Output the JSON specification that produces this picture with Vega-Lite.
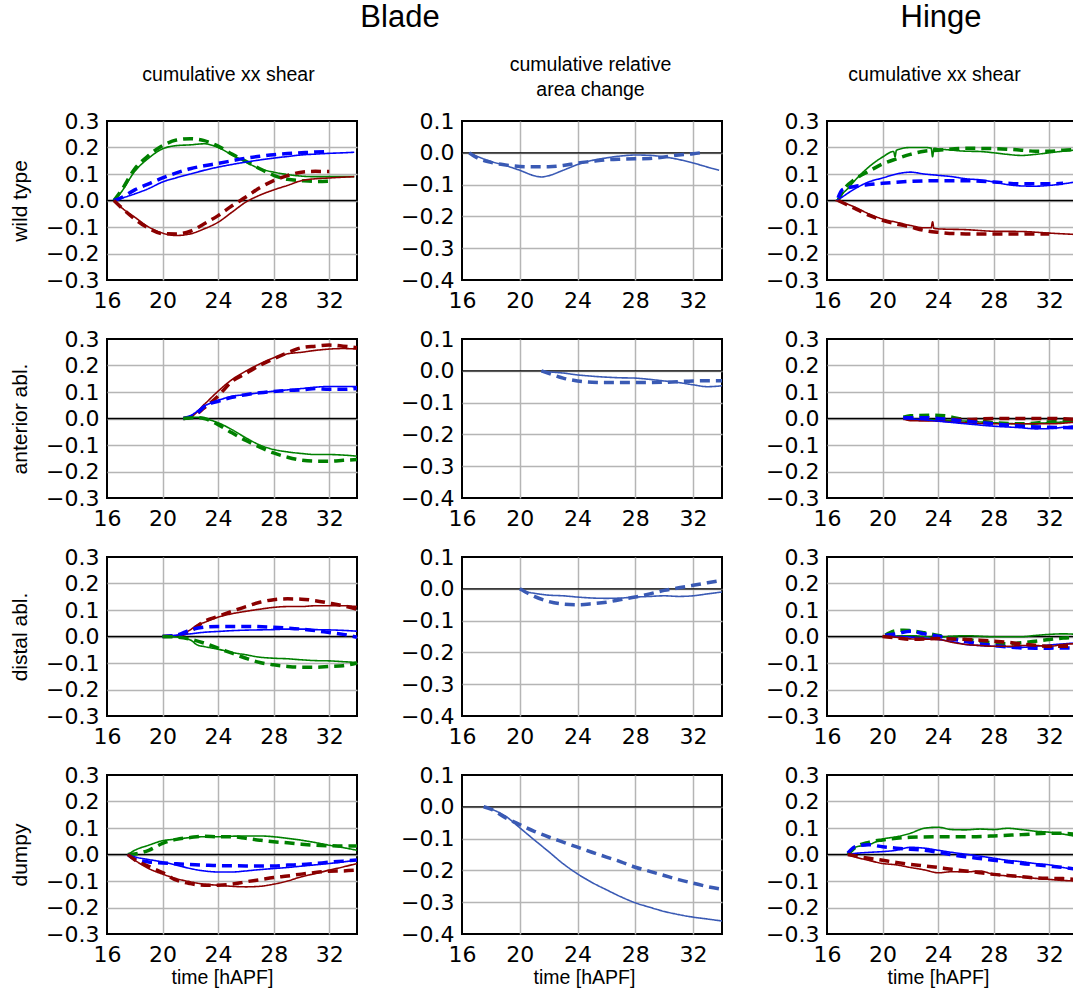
{
"$schema": "https://vega.github.io/schema/vega-lite/v6.json",
"autosize": {"type": "none"},
"padding": {"left": 107, "top": 121, "right": 966, "bottom": 873},
"config": {
  "font": "Liberation Sans",
  "view": {"stroke": "black", "strokeWidth": 2},
  "axis": {"labelFont": "DejaVu Sans", "labelFontSize": 22, "labelColor": "black", "ticks": false, "tickSize": 0, "domain": false, "grid": true, "gridColor": "#b5b5b5", "gridWidth": 1.5, "labelFlush": false, "labelOverlap": false, "titleFont": "Liberation Sans", "titleFontWeight": "normal", "titleColor": "black"},
  "axisX": {"labelPadding": 10},
  "axisY": {"labelPadding": 8},
  "title": {"font": "Liberation Sans", "fontWeight": "normal", "color": "black"}
},
"datasets": {"d": [
{"p":"B","g":"wt","c":"g","k":"s","t":16.5,"v":0},{"p":"B","g":"wt","c":"g","k":"s","t":17,"v":0.03},{"p":"B","g":"wt","c":"g","k":"s","t":18,"v":0.11},{"p":"B","g":"wt","c":"g","k":"s","t":19,"v":0.16},{"p":"B","g":"wt","c":"g","k":"s","t":20,"v":0.195},{"p":"B","g":"wt","c":"g","k":"s","t":21,"v":0.207},{"p":"B","g":"wt","c":"g","k":"s","t":22,"v":0.21},{"p":"B","g":"wt","c":"g","k":"s","t":23,"v":0.214},{"p":"B","g":"wt","c":"g","k":"s","t":24,"v":0.2},{"p":"B","g":"wt","c":"g","k":"s","t":25,"v":0.172},{"p":"B","g":"wt","c":"g","k":"s","t":26,"v":0.145},{"p":"B","g":"wt","c":"g","k":"s","t":27,"v":0.12},{"p":"B","g":"wt","c":"g","k":"s","t":28,"v":0.107},{"p":"B","g":"wt","c":"g","k":"s","t":29,"v":0.098},{"p":"B","g":"wt","c":"g","k":"s","t":30,"v":0.092},{"p":"B","g":"wt","c":"g","k":"s","t":31,"v":0.09},{"p":"B","g":"wt","c":"g","k":"s","t":32,"v":0.09},{"p":"B","g":"wt","c":"g","k":"s","t":33,"v":0.09},{"p":"B","g":"wt","c":"g","k":"s","t":33.8,"v":0.09},
{"p":"B","g":"wt","c":"g","k":"d","t":16.5,"v":0},{"p":"B","g":"wt","c":"g","k":"d","t":17,"v":0.035},{"p":"B","g":"wt","c":"g","k":"d","t":18,"v":0.12},{"p":"B","g":"wt","c":"g","k":"d","t":19,"v":0.17},{"p":"B","g":"wt","c":"g","k":"d","t":20,"v":0.207},{"p":"B","g":"wt","c":"g","k":"d","t":21,"v":0.228},{"p":"B","g":"wt","c":"g","k":"d","t":22,"v":0.233},{"p":"B","g":"wt","c":"g","k":"d","t":23,"v":0.226},{"p":"B","g":"wt","c":"g","k":"d","t":24,"v":0.205},{"p":"B","g":"wt","c":"g","k":"d","t":25,"v":0.175},{"p":"B","g":"wt","c":"g","k":"d","t":26,"v":0.148},{"p":"B","g":"wt","c":"g","k":"d","t":27,"v":0.12},{"p":"B","g":"wt","c":"g","k":"d","t":28,"v":0.095},{"p":"B","g":"wt","c":"g","k":"d","t":29,"v":0.08},{"p":"B","g":"wt","c":"g","k":"d","t":30,"v":0.075},{"p":"B","g":"wt","c":"g","k":"d","t":31,"v":0.072},{"p":"B","g":"wt","c":"g","k":"d","t":32,"v":0.073},
{"p":"B","g":"wt","c":"b","k":"s","t":16.5,"v":0},{"p":"B","g":"wt","c":"b","k":"s","t":18,"v":0.025},{"p":"B","g":"wt","c":"b","k":"s","t":19,"v":0.045},{"p":"B","g":"wt","c":"b","k":"s","t":20,"v":0.07},{"p":"B","g":"wt","c":"b","k":"s","t":21,"v":0.086},{"p":"B","g":"wt","c":"b","k":"s","t":22,"v":0.1},{"p":"B","g":"wt","c":"b","k":"s","t":23,"v":0.114},{"p":"B","g":"wt","c":"b","k":"s","t":24,"v":0.126},{"p":"B","g":"wt","c":"b","k":"s","t":25,"v":0.136},{"p":"B","g":"wt","c":"b","k":"s","t":26,"v":0.145},{"p":"B","g":"wt","c":"b","k":"s","t":27,"v":0.153},{"p":"B","g":"wt","c":"b","k":"s","t":28,"v":0.16},{"p":"B","g":"wt","c":"b","k":"s","t":29,"v":0.166},{"p":"B","g":"wt","c":"b","k":"s","t":30,"v":0.172},{"p":"B","g":"wt","c":"b","k":"s","t":31,"v":0.175},{"p":"B","g":"wt","c":"b","k":"s","t":32,"v":0.178},{"p":"B","g":"wt","c":"b","k":"s","t":33,"v":0.18},{"p":"B","g":"wt","c":"b","k":"s","t":33.8,"v":0.182},
{"p":"B","g":"wt","c":"b","k":"d","t":16.5,"v":0},{"p":"B","g":"wt","c":"b","k":"d","t":17,"v":0.01},{"p":"B","g":"wt","c":"b","k":"d","t":18,"v":0.04},{"p":"B","g":"wt","c":"b","k":"d","t":19,"v":0.063},{"p":"B","g":"wt","c":"b","k":"d","t":20,"v":0.085},{"p":"B","g":"wt","c":"b","k":"d","t":21,"v":0.104},{"p":"B","g":"wt","c":"b","k":"d","t":22,"v":0.12},{"p":"B","g":"wt","c":"b","k":"d","t":23,"v":0.131},{"p":"B","g":"wt","c":"b","k":"d","t":24,"v":0.14},{"p":"B","g":"wt","c":"b","k":"d","t":25,"v":0.15},{"p":"B","g":"wt","c":"b","k":"d","t":26,"v":0.16},{"p":"B","g":"wt","c":"b","k":"d","t":27,"v":0.167},{"p":"B","g":"wt","c":"b","k":"d","t":28,"v":0.173},{"p":"B","g":"wt","c":"b","k":"d","t":29,"v":0.177},{"p":"B","g":"wt","c":"b","k":"d","t":30,"v":0.18},{"p":"B","g":"wt","c":"b","k":"d","t":31,"v":0.183},{"p":"B","g":"wt","c":"b","k":"d","t":32,"v":0.185},
{"p":"B","g":"wt","c":"r","k":"s","t":16.5,"v":0},{"p":"B","g":"wt","c":"r","k":"s","t":17,"v":-0.025},{"p":"B","g":"wt","c":"r","k":"s","t":18,"v":-0.063},{"p":"B","g":"wt","c":"r","k":"s","t":19,"v":-0.1},{"p":"B","g":"wt","c":"r","k":"s","t":20,"v":-0.123},{"p":"B","g":"wt","c":"r","k":"s","t":21,"v":-0.132},{"p":"B","g":"wt","c":"r","k":"s","t":22,"v":-0.126},{"p":"B","g":"wt","c":"r","k":"s","t":23,"v":-0.107},{"p":"B","g":"wt","c":"r","k":"s","t":24,"v":-0.082},{"p":"B","g":"wt","c":"r","k":"s","t":25,"v":-0.044},{"p":"B","g":"wt","c":"r","k":"s","t":26,"v":-0.006},{"p":"B","g":"wt","c":"r","k":"s","t":27,"v":0.02},{"p":"B","g":"wt","c":"r","k":"s","t":28,"v":0.04},{"p":"B","g":"wt","c":"r","k":"s","t":29,"v":0.057},{"p":"B","g":"wt","c":"r","k":"s","t":30,"v":0.075},{"p":"B","g":"wt","c":"r","k":"s","t":31,"v":0.082},{"p":"B","g":"wt","c":"r","k":"s","t":32,"v":0.085},{"p":"B","g":"wt","c":"r","k":"s","t":33,"v":0.088},{"p":"B","g":"wt","c":"r","k":"s","t":33.8,"v":0.09},
{"p":"B","g":"wt","c":"r","k":"d","t":16.5,"v":0},{"p":"B","g":"wt","c":"r","k":"d","t":17,"v":-0.025},{"p":"B","g":"wt","c":"r","k":"d","t":18,"v":-0.07},{"p":"B","g":"wt","c":"r","k":"d","t":19,"v":-0.105},{"p":"B","g":"wt","c":"r","k":"d","t":20,"v":-0.125},{"p":"B","g":"wt","c":"r","k":"d","t":21,"v":-0.126},{"p":"B","g":"wt","c":"r","k":"d","t":22,"v":-0.116},{"p":"B","g":"wt","c":"r","k":"d","t":23,"v":-0.088},{"p":"B","g":"wt","c":"r","k":"d","t":24,"v":-0.057},{"p":"B","g":"wt","c":"r","k":"d","t":25,"v":-0.02},{"p":"B","g":"wt","c":"r","k":"d","t":26,"v":0.013},{"p":"B","g":"wt","c":"r","k":"d","t":27,"v":0.048},{"p":"B","g":"wt","c":"r","k":"d","t":28,"v":0.075},{"p":"B","g":"wt","c":"r","k":"d","t":29,"v":0.094},{"p":"B","g":"wt","c":"r","k":"d","t":30,"v":0.107},{"p":"B","g":"wt","c":"r","k":"d","t":31,"v":0.11},{"p":"B","g":"wt","c":"r","k":"d","t":32,"v":0.109},
{"p":"A","g":"wt","c":"a","k":"s","t":16.5,"v":0},{"p":"A","g":"wt","c":"a","k":"s","t":17,"v":-0.01},{"p":"A","g":"wt","c":"a","k":"s","t":18,"v":-0.027},{"p":"A","g":"wt","c":"a","k":"s","t":19,"v":-0.04},{"p":"A","g":"wt","c":"a","k":"s","t":20,"v":-0.055},{"p":"A","g":"wt","c":"a","k":"s","t":21,"v":-0.072},{"p":"A","g":"wt","c":"a","k":"s","t":21.5,"v":-0.076},{"p":"A","g":"wt","c":"a","k":"s","t":22,"v":-0.072},{"p":"A","g":"wt","c":"a","k":"s","t":23,"v":-0.055},{"p":"A","g":"wt","c":"a","k":"s","t":24,"v":-0.037},{"p":"A","g":"wt","c":"a","k":"s","t":25,"v":-0.024},{"p":"A","g":"wt","c":"a","k":"s","t":26,"v":-0.016},{"p":"A","g":"wt","c":"a","k":"s","t":27,"v":-0.01},{"p":"A","g":"wt","c":"a","k":"s","t":28,"v":-0.007},{"p":"A","g":"wt","c":"a","k":"s","t":29,"v":-0.008},{"p":"A","g":"wt","c":"a","k":"s","t":30,"v":-0.013},{"p":"A","g":"wt","c":"a","k":"s","t":31,"v":-0.021},{"p":"A","g":"wt","c":"a","k":"s","t":32,"v":-0.032},{"p":"A","g":"wt","c":"a","k":"s","t":33,"v":-0.045},{"p":"A","g":"wt","c":"a","k":"s","t":33.8,"v":-0.055},
{"p":"A","g":"wt","c":"a","k":"d","t":16.5,"v":0},{"p":"A","g":"wt","c":"a","k":"d","t":17,"v":-0.015},{"p":"A","g":"wt","c":"a","k":"d","t":18,"v":-0.03},{"p":"A","g":"wt","c":"a","k":"d","t":19,"v":-0.038},{"p":"A","g":"wt","c":"a","k":"d","t":20,"v":-0.043},{"p":"A","g":"wt","c":"a","k":"d","t":21,"v":-0.044},{"p":"A","g":"wt","c":"a","k":"d","t":22,"v":-0.044},{"p":"A","g":"wt","c":"a","k":"d","t":23,"v":-0.04},{"p":"A","g":"wt","c":"a","k":"d","t":24,"v":-0.032},{"p":"A","g":"wt","c":"a","k":"d","t":25,"v":-0.027},{"p":"A","g":"wt","c":"a","k":"d","t":26,"v":-0.022},{"p":"A","g":"wt","c":"a","k":"d","t":27,"v":-0.02},{"p":"A","g":"wt","c":"a","k":"d","t":28,"v":-0.019},{"p":"A","g":"wt","c":"a","k":"d","t":29,"v":-0.018},{"p":"A","g":"wt","c":"a","k":"d","t":30,"v":-0.013},{"p":"A","g":"wt","c":"a","k":"d","t":31,"v":-0.007},{"p":"A","g":"wt","c":"a","k":"d","t":32,"v":-0.003},{"p":"A","g":"wt","c":"a","k":"d","t":32.5,"v":0},
{"p":"H","g":"wt","c":"g","k":"s","t":16.7,"v":0},{"p":"H","g":"wt","c":"g","k":"s","t":17,"v":0.02},{"p":"H","g":"wt","c":"g","k":"s","t":17.5,"v":0.045},{"p":"H","g":"wt","c":"g","k":"s","t":18,"v":0.075},{"p":"H","g":"wt","c":"g","k":"s","t":19,"v":0.126},{"p":"H","g":"wt","c":"g","k":"s","t":20,"v":0.164},{"p":"H","g":"wt","c":"g","k":"s","t":20.8,"v":0.185},{"p":"H","g":"wt","c":"g","k":"s","t":20.9,"v":0.165},{"p":"H","g":"wt","c":"g","k":"s","t":21,"v":0.19},{"p":"H","g":"wt","c":"g","k":"s","t":22,"v":0.2},{"p":"H","g":"wt","c":"g","k":"s","t":23,"v":0.2},{"p":"H","g":"wt","c":"g","k":"s","t":23.5,"v":0.198},{"p":"H","g":"wt","c":"g","k":"s","t":23.6,"v":0.165},{"p":"H","g":"wt","c":"g","k":"s","t":23.7,"v":0.197},{"p":"H","g":"wt","c":"g","k":"s","t":24,"v":0.195},{"p":"H","g":"wt","c":"g","k":"s","t":25,"v":0.19},{"p":"H","g":"wt","c":"g","k":"s","t":26,"v":0.186},{"p":"H","g":"wt","c":"g","k":"s","t":27,"v":0.185},{"p":"H","g":"wt","c":"g","k":"s","t":28,"v":0.18},{"p":"H","g":"wt","c":"g","k":"s","t":29,"v":0.174},{"p":"H","g":"wt","c":"g","k":"s","t":30,"v":0.17},{"p":"H","g":"wt","c":"g","k":"s","t":31,"v":0.174},{"p":"H","g":"wt","c":"g","k":"s","t":32,"v":0.18},{"p":"H","g":"wt","c":"g","k":"s","t":33,"v":0.186},{"p":"H","g":"wt","c":"g","k":"s","t":33.8,"v":0.19},
{"p":"H","g":"wt","c":"g","k":"d","t":16.8,"v":0},{"p":"H","g":"wt","c":"g","k":"d","t":17.2,"v":0.04},{"p":"H","g":"wt","c":"g","k":"d","t":18,"v":0.08},{"p":"H","g":"wt","c":"g","k":"d","t":19,"v":0.11},{"p":"H","g":"wt","c":"g","k":"d","t":20,"v":0.138},{"p":"H","g":"wt","c":"g","k":"d","t":21,"v":0.157},{"p":"H","g":"wt","c":"g","k":"d","t":22,"v":0.174},{"p":"H","g":"wt","c":"g","k":"d","t":23,"v":0.186},{"p":"H","g":"wt","c":"g","k":"d","t":24,"v":0.19},{"p":"H","g":"wt","c":"g","k":"d","t":26,"v":0.197},{"p":"H","g":"wt","c":"g","k":"d","t":28,"v":0.196},{"p":"H","g":"wt","c":"g","k":"d","t":30,"v":0.19},{"p":"H","g":"wt","c":"g","k":"d","t":31,"v":0.186},{"p":"H","g":"wt","c":"g","k":"d","t":32,"v":0.186},{"p":"H","g":"wt","c":"g","k":"d","t":33,"v":0.19},{"p":"H","g":"wt","c":"g","k":"d","t":33.8,"v":0.192},
{"p":"H","g":"wt","c":"b","k":"s","t":16.7,"v":0},{"p":"H","g":"wt","c":"b","k":"s","t":17,"v":0.01},{"p":"H","g":"wt","c":"b","k":"s","t":18,"v":0.044},{"p":"H","g":"wt","c":"b","k":"s","t":19,"v":0.07},{"p":"H","g":"wt","c":"b","k":"s","t":20,"v":0.085},{"p":"H","g":"wt","c":"b","k":"s","t":21,"v":0.1},{"p":"H","g":"wt","c":"b","k":"s","t":22,"v":0.107},{"p":"H","g":"wt","c":"b","k":"s","t":23,"v":0.1},{"p":"H","g":"wt","c":"b","k":"s","t":24,"v":0.095},{"p":"H","g":"wt","c":"b","k":"s","t":25,"v":0.09},{"p":"H","g":"wt","c":"b","k":"s","t":26,"v":0.082},{"p":"H","g":"wt","c":"b","k":"s","t":27,"v":0.078},{"p":"H","g":"wt","c":"b","k":"s","t":28,"v":0.07},{"p":"H","g":"wt","c":"b","k":"s","t":29,"v":0.06},{"p":"H","g":"wt","c":"b","k":"s","t":30,"v":0.055},{"p":"H","g":"wt","c":"b","k":"s","t":31,"v":0.054},{"p":"H","g":"wt","c":"b","k":"s","t":32,"v":0.057},{"p":"H","g":"wt","c":"b","k":"s","t":33,"v":0.063},{"p":"H","g":"wt","c":"b","k":"s","t":33.8,"v":0.069},
{"p":"H","g":"wt","c":"b","k":"d","t":16.8,"v":0.01},{"p":"H","g":"wt","c":"b","k":"d","t":17.1,"v":0.04},{"p":"H","g":"wt","c":"b","k":"d","t":18,"v":0.053},{"p":"H","g":"wt","c":"b","k":"d","t":19,"v":0.06},{"p":"H","g":"wt","c":"b","k":"d","t":20,"v":0.065},{"p":"H","g":"wt","c":"b","k":"d","t":22,"v":0.072},{"p":"H","g":"wt","c":"b","k":"d","t":24,"v":0.075},{"p":"H","g":"wt","c":"b","k":"d","t":26,"v":0.075},{"p":"H","g":"wt","c":"b","k":"d","t":28,"v":0.07},{"p":"H","g":"wt","c":"b","k":"d","t":30,"v":0.063},{"p":"H","g":"wt","c":"b","k":"d","t":32,"v":0.063},{"p":"H","g":"wt","c":"b","k":"d","t":33,"v":0.065},
{"p":"H","g":"wt","c":"r","k":"s","t":16.6,"v":0},{"p":"H","g":"wt","c":"r","k":"s","t":17,"v":-0.005},{"p":"H","g":"wt","c":"r","k":"s","t":18,"v":-0.025},{"p":"H","g":"wt","c":"r","k":"s","t":19,"v":-0.05},{"p":"H","g":"wt","c":"r","k":"s","t":20,"v":-0.07},{"p":"H","g":"wt","c":"r","k":"s","t":21,"v":-0.082},{"p":"H","g":"wt","c":"r","k":"s","t":22,"v":-0.094},{"p":"H","g":"wt","c":"r","k":"s","t":23,"v":-0.103},{"p":"H","g":"wt","c":"r","k":"s","t":23.5,"v":-0.103},{"p":"H","g":"wt","c":"r","k":"s","t":23.6,"v":-0.08},{"p":"H","g":"wt","c":"r","k":"s","t":23.7,"v":-0.105},{"p":"H","g":"wt","c":"r","k":"s","t":24,"v":-0.107},{"p":"H","g":"wt","c":"r","k":"s","t":26,"v":-0.11},{"p":"H","g":"wt","c":"r","k":"s","t":28,"v":-0.116},{"p":"H","g":"wt","c":"r","k":"s","t":30,"v":-0.117},{"p":"H","g":"wt","c":"r","k":"s","t":32,"v":-0.123},{"p":"H","g":"wt","c":"r","k":"s","t":33.8,"v":-0.128},
{"p":"H","g":"wt","c":"r","k":"d","t":16.8,"v":0},{"p":"H","g":"wt","c":"r","k":"d","t":18,"v":-0.03},{"p":"H","g":"wt","c":"r","k":"d","t":19,"v":-0.055},{"p":"H","g":"wt","c":"r","k":"d","t":20,"v":-0.075},{"p":"H","g":"wt","c":"r","k":"d","t":22,"v":-0.1},{"p":"H","g":"wt","c":"r","k":"d","t":23,"v":-0.113},{"p":"H","g":"wt","c":"r","k":"d","t":24,"v":-0.12},{"p":"H","g":"wt","c":"r","k":"d","t":26,"v":-0.126},{"p":"H","g":"wt","c":"r","k":"d","t":28,"v":-0.126},{"p":"H","g":"wt","c":"r","k":"d","t":30,"v":-0.126},{"p":"H","g":"wt","c":"r","k":"d","t":32,"v":-0.126},
{"p":"B","g":"ant","c":"r","k":"s","t":21.5,"v":0},{"p":"B","g":"ant","c":"r","k":"s","t":22,"v":0.005},{"p":"B","g":"ant","c":"r","k":"s","t":23,"v":0.053},{"p":"B","g":"ant","c":"r","k":"s","t":24,"v":0.103},{"p":"B","g":"ant","c":"r","k":"s","t":25,"v":0.147},{"p":"B","g":"ant","c":"r","k":"s","t":26,"v":0.179},{"p":"B","g":"ant","c":"r","k":"s","t":27,"v":0.206},{"p":"B","g":"ant","c":"r","k":"s","t":28,"v":0.229},{"p":"B","g":"ant","c":"r","k":"s","t":29,"v":0.244},{"p":"B","g":"ant","c":"r","k":"s","t":30,"v":0.25},{"p":"B","g":"ant","c":"r","k":"s","t":31,"v":0.257},{"p":"B","g":"ant","c":"r","k":"s","t":32,"v":0.262},{"p":"B","g":"ant","c":"r","k":"s","t":33,"v":0.264},{"p":"B","g":"ant","c":"r","k":"s","t":34,"v":0.262},
{"p":"B","g":"ant","c":"r","k":"d","t":21.5,"v":0},{"p":"B","g":"ant","c":"r","k":"d","t":22,"v":0.004},{"p":"B","g":"ant","c":"r","k":"d","t":23,"v":0.04},{"p":"B","g":"ant","c":"r","k":"d","t":24,"v":0.085},{"p":"B","g":"ant","c":"r","k":"d","t":25,"v":0.14},{"p":"B","g":"ant","c":"r","k":"d","t":26,"v":0.17},{"p":"B","g":"ant","c":"r","k":"d","t":27,"v":0.2},{"p":"B","g":"ant","c":"r","k":"d","t":28,"v":0.225},{"p":"B","g":"ant","c":"r","k":"d","t":29,"v":0.248},{"p":"B","g":"ant","c":"r","k":"d","t":30,"v":0.267},{"p":"B","g":"ant","c":"r","k":"d","t":31,"v":0.273},{"p":"B","g":"ant","c":"r","k":"d","t":32,"v":0.277},{"p":"B","g":"ant","c":"r","k":"d","t":33,"v":0.273},{"p":"B","g":"ant","c":"r","k":"d","t":34,"v":0.267},
{"p":"B","g":"ant","c":"b","k":"s","t":21.5,"v":0},{"p":"B","g":"ant","c":"b","k":"s","t":22,"v":0.01},{"p":"B","g":"ant","c":"b","k":"s","t":23,"v":0.047},{"p":"B","g":"ant","c":"b","k":"s","t":24,"v":0.068},{"p":"B","g":"ant","c":"b","k":"s","t":25,"v":0.084},{"p":"B","g":"ant","c":"b","k":"s","t":26,"v":0.09},{"p":"B","g":"ant","c":"b","k":"s","t":27,"v":0.097},{"p":"B","g":"ant","c":"b","k":"s","t":28,"v":0.103},{"p":"B","g":"ant","c":"b","k":"s","t":29,"v":0.108},{"p":"B","g":"ant","c":"b","k":"s","t":30,"v":0.113},{"p":"B","g":"ant","c":"b","k":"s","t":31,"v":0.118},{"p":"B","g":"ant","c":"b","k":"s","t":32,"v":0.121},{"p":"B","g":"ant","c":"b","k":"s","t":33,"v":0.121},{"p":"B","g":"ant","c":"b","k":"s","t":34,"v":0.12},
{"p":"B","g":"ant","c":"b","k":"d","t":21.5,"v":0},{"p":"B","g":"ant","c":"b","k":"d","t":22.5,"v":0.02},{"p":"B","g":"ant","c":"b","k":"d","t":23,"v":0.045},{"p":"B","g":"ant","c":"b","k":"d","t":24,"v":0.065},{"p":"B","g":"ant","c":"b","k":"d","t":25,"v":0.08},{"p":"B","g":"ant","c":"b","k":"d","t":26,"v":0.09},{"p":"B","g":"ant","c":"b","k":"d","t":27,"v":0.097},{"p":"B","g":"ant","c":"b","k":"d","t":28,"v":0.102},{"p":"B","g":"ant","c":"b","k":"d","t":29,"v":0.106},{"p":"B","g":"ant","c":"b","k":"d","t":30,"v":0.108},{"p":"B","g":"ant","c":"b","k":"d","t":31,"v":0.113},{"p":"B","g":"ant","c":"b","k":"d","t":32,"v":0.11},{"p":"B","g":"ant","c":"b","k":"d","t":33,"v":0.11},{"p":"B","g":"ant","c":"b","k":"d","t":34,"v":0.113},
{"p":"B","g":"ant","c":"g","k":"s","t":21.5,"v":0},{"p":"B","g":"ant","c":"g","k":"s","t":22.5,"v":0.005},{"p":"B","g":"ant","c":"g","k":"s","t":23,"v":0},{"p":"B","g":"ant","c":"g","k":"s","t":24,"v":-0.016},{"p":"B","g":"ant","c":"g","k":"s","t":25,"v":-0.042},{"p":"B","g":"ant","c":"g","k":"s","t":26,"v":-0.073},{"p":"B","g":"ant","c":"g","k":"s","t":27,"v":-0.1},{"p":"B","g":"ant","c":"g","k":"s","t":28,"v":-0.117},{"p":"B","g":"ant","c":"g","k":"s","t":29,"v":-0.126},{"p":"B","g":"ant","c":"g","k":"s","t":30,"v":-0.132},{"p":"B","g":"ant","c":"g","k":"s","t":31,"v":-0.136},{"p":"B","g":"ant","c":"g","k":"s","t":32,"v":-0.136},{"p":"B","g":"ant","c":"g","k":"s","t":33,"v":-0.138},{"p":"B","g":"ant","c":"g","k":"s","t":34,"v":-0.142},
{"p":"B","g":"ant","c":"g","k":"d","t":21.5,"v":0},{"p":"B","g":"ant","c":"g","k":"d","t":22.5,"v":0.003},{"p":"B","g":"ant","c":"g","k":"d","t":23,"v":0},{"p":"B","g":"ant","c":"g","k":"d","t":24,"v":-0.023},{"p":"B","g":"ant","c":"g","k":"d","t":25,"v":-0.054},{"p":"B","g":"ant","c":"g","k":"d","t":26,"v":-0.083},{"p":"B","g":"ant","c":"g","k":"d","t":27,"v":-0.108},{"p":"B","g":"ant","c":"g","k":"d","t":28,"v":-0.13},{"p":"B","g":"ant","c":"g","k":"d","t":29,"v":-0.146},{"p":"B","g":"ant","c":"g","k":"d","t":30,"v":-0.157},{"p":"B","g":"ant","c":"g","k":"d","t":31,"v":-0.161},{"p":"B","g":"ant","c":"g","k":"d","t":32,"v":-0.161},{"p":"B","g":"ant","c":"g","k":"d","t":33,"v":-0.158},{"p":"B","g":"ant","c":"g","k":"d","t":34,"v":-0.155},
{"p":"A","g":"ant","c":"a","k":"s","t":21.5,"v":0},{"p":"A","g":"ant","c":"a","k":"s","t":22,"v":-0.003},{"p":"A","g":"ant","c":"a","k":"s","t":23,"v":-0.007},{"p":"A","g":"ant","c":"a","k":"s","t":24,"v":-0.013},{"p":"A","g":"ant","c":"a","k":"s","t":25,"v":-0.017},{"p":"A","g":"ant","c":"a","k":"s","t":26,"v":-0.02},{"p":"A","g":"ant","c":"a","k":"s","t":27,"v":-0.022},{"p":"A","g":"ant","c":"a","k":"s","t":28,"v":-0.023},{"p":"A","g":"ant","c":"a","k":"s","t":29,"v":-0.027},{"p":"A","g":"ant","c":"a","k":"s","t":30,"v":-0.032},{"p":"A","g":"ant","c":"a","k":"s","t":31,"v":-0.037},{"p":"A","g":"ant","c":"a","k":"s","t":32,"v":-0.044},{"p":"A","g":"ant","c":"a","k":"s","t":33,"v":-0.05},{"p":"A","g":"ant","c":"a","k":"s","t":34,"v":-0.047},
{"p":"A","g":"ant","c":"a","k":"d","t":21.5,"v":0},{"p":"A","g":"ant","c":"a","k":"d","t":22,"v":-0.008},{"p":"A","g":"ant","c":"a","k":"d","t":23,"v":-0.023},{"p":"A","g":"ant","c":"a","k":"d","t":24,"v":-0.032},{"p":"A","g":"ant","c":"a","k":"d","t":25,"v":-0.036},{"p":"A","g":"ant","c":"a","k":"d","t":26,"v":-0.037},{"p":"A","g":"ant","c":"a","k":"d","t":28,"v":-0.037},{"p":"A","g":"ant","c":"a","k":"d","t":30,"v":-0.036},{"p":"A","g":"ant","c":"a","k":"d","t":32,"v":-0.032},{"p":"A","g":"ant","c":"a","k":"d","t":34,"v":-0.031},
{"p":"H","g":"ant","c":"g","k":"s","t":21.5,"v":0},{"p":"H","g":"ant","c":"g","k":"s","t":22,"v":-0.003},{"p":"H","g":"ant","c":"g","k":"s","t":24,"v":-0.005},{"p":"H","g":"ant","c":"g","k":"s","t":26,"v":-0.01},{"p":"H","g":"ant","c":"g","k":"s","t":28,"v":-0.016},{"p":"H","g":"ant","c":"g","k":"s","t":30,"v":-0.02},{"p":"H","g":"ant","c":"g","k":"s","t":32,"v":-0.016},{"p":"H","g":"ant","c":"g","k":"s","t":34,"v":-0.01},
{"p":"H","g":"ant","c":"g","k":"d","t":21.5,"v":0.005},{"p":"H","g":"ant","c":"g","k":"d","t":22,"v":0.01},{"p":"H","g":"ant","c":"g","k":"d","t":23.5,"v":0.012},{"p":"H","g":"ant","c":"g","k":"d","t":24.5,"v":0.01},{"p":"H","g":"ant","c":"g","k":"d","t":25,"v":0.005},{"p":"H","g":"ant","c":"g","k":"d","t":26,"v":-0.005},{"p":"H","g":"ant","c":"g","k":"d","t":27,"v":-0.01},{"p":"H","g":"ant","c":"g","k":"d","t":28,"v":-0.016},{"p":"H","g":"ant","c":"g","k":"d","t":30,"v":-0.02},{"p":"H","g":"ant","c":"g","k":"d","t":32,"v":-0.013},{"p":"H","g":"ant","c":"g","k":"d","t":34,"v":-0.008},
{"p":"H","g":"ant","c":"r","k":"s","t":21.5,"v":0},{"p":"H","g":"ant","c":"r","k":"s","t":22,"v":-0.008},{"p":"H","g":"ant","c":"r","k":"s","t":24,"v":-0.01},{"p":"H","g":"ant","c":"r","k":"s","t":26,"v":-0.016},{"p":"H","g":"ant","c":"r","k":"s","t":28,"v":-0.02},{"p":"H","g":"ant","c":"r","k":"s","t":30,"v":-0.02},{"p":"H","g":"ant","c":"r","k":"s","t":32,"v":-0.02},{"p":"H","g":"ant","c":"r","k":"s","t":34,"v":-0.013},
{"p":"H","g":"ant","c":"r","k":"d","t":21.5,"v":0},{"p":"H","g":"ant","c":"r","k":"d","t":23,"v":-0.003},{"p":"H","g":"ant","c":"r","k":"d","t":24,"v":-0.004},{"p":"H","g":"ant","c":"r","k":"d","t":26,"v":-0.004},{"p":"H","g":"ant","c":"r","k":"d","t":28,"v":0},{"p":"H","g":"ant","c":"r","k":"d","t":30,"v":0},{"p":"H","g":"ant","c":"r","k":"d","t":32,"v":0},{"p":"H","g":"ant","c":"r","k":"d","t":34,"v":-0.004},
{"p":"H","g":"ant","c":"b","k":"s","t":21.5,"v":0},{"p":"H","g":"ant","c":"b","k":"s","t":23,"v":-0.005},{"p":"H","g":"ant","c":"b","k":"s","t":24,"v":-0.01},{"p":"H","g":"ant","c":"b","k":"s","t":26,"v":-0.02},{"p":"H","g":"ant","c":"b","k":"s","t":28,"v":-0.029},{"p":"H","g":"ant","c":"b","k":"s","t":30,"v":-0.035},{"p":"H","g":"ant","c":"b","k":"s","t":31,"v":-0.039},{"p":"H","g":"ant","c":"b","k":"s","t":32,"v":-0.038},{"p":"H","g":"ant","c":"b","k":"s","t":33,"v":-0.033},{"p":"H","g":"ant","c":"b","k":"s","t":34,"v":-0.026},
{"p":"H","g":"ant","c":"b","k":"d","t":21.5,"v":0.003},{"p":"H","g":"ant","c":"b","k":"d","t":23,"v":0.003},{"p":"H","g":"ant","c":"b","k":"d","t":24,"v":0},{"p":"H","g":"ant","c":"b","k":"d","t":26,"v":-0.01},{"p":"H","g":"ant","c":"b","k":"d","t":28,"v":-0.02},{"p":"H","g":"ant","c":"b","k":"d","t":30,"v":-0.029},{"p":"H","g":"ant","c":"b","k":"d","t":32,"v":-0.033},{"p":"H","g":"ant","c":"b","k":"d","t":34,"v":-0.035},
{"p":"B","g":"dis","c":"r","k":"s","t":20,"v":0},{"p":"B","g":"dis","c":"r","k":"s","t":21,"v":0.004},{"p":"B","g":"dis","c":"r","k":"s","t":22,"v":0.025},{"p":"B","g":"dis","c":"r","k":"s","t":22.5,"v":0.044},{"p":"B","g":"dis","c":"r","k":"s","t":23,"v":0.053},{"p":"B","g":"dis","c":"r","k":"s","t":24,"v":0.073},{"p":"B","g":"dis","c":"r","k":"s","t":25,"v":0.086},{"p":"B","g":"dis","c":"r","k":"s","t":26,"v":0.095},{"p":"B","g":"dis","c":"r","k":"s","t":27,"v":0.103},{"p":"B","g":"dis","c":"r","k":"s","t":28,"v":0.11},{"p":"B","g":"dis","c":"r","k":"s","t":29,"v":0.113},{"p":"B","g":"dis","c":"r","k":"s","t":30,"v":0.113},{"p":"B","g":"dis","c":"r","k":"s","t":31,"v":0.116},{"p":"B","g":"dis","c":"r","k":"s","t":32,"v":0.116},{"p":"B","g":"dis","c":"r","k":"s","t":33,"v":0.116},{"p":"B","g":"dis","c":"r","k":"s","t":34,"v":0.113},
{"p":"B","g":"dis","c":"r","k":"d","t":20,"v":0},{"p":"B","g":"dis","c":"r","k":"d","t":21,"v":0.003},{"p":"B","g":"dis","c":"r","k":"d","t":22,"v":0.02},{"p":"B","g":"dis","c":"r","k":"d","t":23,"v":0.057},{"p":"B","g":"dis","c":"r","k":"d","t":24,"v":0.076},{"p":"B","g":"dis","c":"r","k":"d","t":25,"v":0.095},{"p":"B","g":"dis","c":"r","k":"d","t":26,"v":0.113},{"p":"B","g":"dis","c":"r","k":"d","t":27,"v":0.129},{"p":"B","g":"dis","c":"r","k":"d","t":28,"v":0.139},{"p":"B","g":"dis","c":"r","k":"d","t":29,"v":0.142},{"p":"B","g":"dis","c":"r","k":"d","t":30,"v":0.141},{"p":"B","g":"dis","c":"r","k":"d","t":31,"v":0.135},{"p":"B","g":"dis","c":"r","k":"d","t":32,"v":0.126},{"p":"B","g":"dis","c":"r","k":"d","t":33,"v":0.116},{"p":"B","g":"dis","c":"r","k":"d","t":34,"v":0.103},
{"p":"B","g":"dis","c":"b","k":"s","t":20,"v":0},{"p":"B","g":"dis","c":"b","k":"s","t":21,"v":0.005},{"p":"B","g":"dis","c":"b","k":"s","t":22,"v":0.01},{"p":"B","g":"dis","c":"b","k":"s","t":23,"v":0.016},{"p":"B","g":"dis","c":"b","k":"s","t":24,"v":0.019},{"p":"B","g":"dis","c":"b","k":"s","t":25,"v":0.022},{"p":"B","g":"dis","c":"b","k":"s","t":26,"v":0.024},{"p":"B","g":"dis","c":"b","k":"s","t":27,"v":0.025},{"p":"B","g":"dis","c":"b","k":"s","t":28,"v":0.026},{"p":"B","g":"dis","c":"b","k":"s","t":29,"v":0.028},{"p":"B","g":"dis","c":"b","k":"s","t":30,"v":0.028},{"p":"B","g":"dis","c":"b","k":"s","t":31,"v":0.026},{"p":"B","g":"dis","c":"b","k":"s","t":32,"v":0.025},{"p":"B","g":"dis","c":"b","k":"s","t":33,"v":0.023},{"p":"B","g":"dis","c":"b","k":"s","t":34,"v":0.02},
{"p":"B","g":"dis","c":"b","k":"d","t":20,"v":0},{"p":"B","g":"dis","c":"b","k":"d","t":21,"v":0.005},{"p":"B","g":"dis","c":"b","k":"d","t":22,"v":0.025},{"p":"B","g":"dis","c":"b","k":"d","t":23,"v":0.035},{"p":"B","g":"dis","c":"b","k":"d","t":24,"v":0.038},{"p":"B","g":"dis","c":"b","k":"d","t":26,"v":0.038},{"p":"B","g":"dis","c":"b","k":"d","t":28,"v":0.035},{"p":"B","g":"dis","c":"b","k":"d","t":29,"v":0.032},{"p":"B","g":"dis","c":"b","k":"d","t":30,"v":0.028},{"p":"B","g":"dis","c":"b","k":"d","t":31,"v":0.022},{"p":"B","g":"dis","c":"b","k":"d","t":32,"v":0.015},{"p":"B","g":"dis","c":"b","k":"d","t":33,"v":0.008},{"p":"B","g":"dis","c":"b","k":"d","t":34,"v":-0.003},
{"p":"B","g":"dis","c":"g","k":"s","t":20,"v":0},{"p":"B","g":"dis","c":"g","k":"s","t":21,"v":-0.002},{"p":"B","g":"dis","c":"g","k":"s","t":22,"v":-0.013},{"p":"B","g":"dis","c":"g","k":"s","t":22.5,"v":-0.032},{"p":"B","g":"dis","c":"g","k":"s","t":23,"v":-0.038},{"p":"B","g":"dis","c":"g","k":"s","t":24,"v":-0.048},{"p":"B","g":"dis","c":"g","k":"s","t":25,"v":-0.06},{"p":"B","g":"dis","c":"g","k":"s","t":26,"v":-0.069},{"p":"B","g":"dis","c":"g","k":"s","t":27,"v":-0.078},{"p":"B","g":"dis","c":"g","k":"s","t":28,"v":-0.082},{"p":"B","g":"dis","c":"g","k":"s","t":29,"v":-0.084},{"p":"B","g":"dis","c":"g","k":"s","t":30,"v":-0.088},{"p":"B","g":"dis","c":"g","k":"s","t":31,"v":-0.091},{"p":"B","g":"dis","c":"g","k":"s","t":32,"v":-0.092},{"p":"B","g":"dis","c":"g","k":"s","t":33,"v":-0.095},{"p":"B","g":"dis","c":"g","k":"s","t":34,"v":-0.098},
{"p":"B","g":"dis","c":"g","k":"d","t":20,"v":0},{"p":"B","g":"dis","c":"g","k":"d","t":21,"v":-0.002},{"p":"B","g":"dis","c":"g","k":"d","t":22,"v":-0.01},{"p":"B","g":"dis","c":"g","k":"d","t":23,"v":-0.025},{"p":"B","g":"dis","c":"g","k":"d","t":24,"v":-0.044},{"p":"B","g":"dis","c":"g","k":"d","t":25,"v":-0.063},{"p":"B","g":"dis","c":"g","k":"d","t":26,"v":-0.082},{"p":"B","g":"dis","c":"g","k":"d","t":27,"v":-0.098},{"p":"B","g":"dis","c":"g","k":"d","t":28,"v":-0.107},{"p":"B","g":"dis","c":"g","k":"d","t":29,"v":-0.113},{"p":"B","g":"dis","c":"g","k":"d","t":30,"v":-0.116},{"p":"B","g":"dis","c":"g","k":"d","t":31,"v":-0.116},{"p":"B","g":"dis","c":"g","k":"d","t":32,"v":-0.113},{"p":"B","g":"dis","c":"g","k":"d","t":33,"v":-0.11},{"p":"B","g":"dis","c":"g","k":"d","t":34,"v":-0.1},
{"p":"A","g":"dis","c":"a","k":"s","t":20,"v":0},{"p":"A","g":"dis","c":"a","k":"s","t":20.5,"v":-0.01},{"p":"A","g":"dis","c":"a","k":"s","t":21,"v":-0.014},{"p":"A","g":"dis","c":"a","k":"s","t":22,"v":-0.02},{"p":"A","g":"dis","c":"a","k":"s","t":23,"v":-0.022},{"p":"A","g":"dis","c":"a","k":"s","t":24,"v":-0.026},{"p":"A","g":"dis","c":"a","k":"s","t":25,"v":-0.029},{"p":"A","g":"dis","c":"a","k":"s","t":26,"v":-0.03},{"p":"A","g":"dis","c":"a","k":"s","t":27,"v":-0.029},{"p":"A","g":"dis","c":"a","k":"s","t":28,"v":-0.026},{"p":"A","g":"dis","c":"a","k":"s","t":29,"v":-0.024},{"p":"A","g":"dis","c":"a","k":"s","t":30,"v":-0.022},{"p":"A","g":"dis","c":"a","k":"s","t":31,"v":-0.024},{"p":"A","g":"dis","c":"a","k":"s","t":32,"v":-0.022},{"p":"A","g":"dis","c":"a","k":"s","t":33,"v":-0.016},{"p":"A","g":"dis","c":"a","k":"s","t":34,"v":-0.01},
{"p":"A","g":"dis","c":"a","k":"d","t":20,"v":0},{"p":"A","g":"dis","c":"a","k":"d","t":21,"v":-0.024},{"p":"A","g":"dis","c":"a","k":"d","t":22,"v":-0.04},{"p":"A","g":"dis","c":"a","k":"d","t":23,"v":-0.048},{"p":"A","g":"dis","c":"a","k":"d","t":24,"v":-0.05},{"p":"A","g":"dis","c":"a","k":"d","t":25,"v":-0.047},{"p":"A","g":"dis","c":"a","k":"d","t":26,"v":-0.042},{"p":"A","g":"dis","c":"a","k":"d","t":27,"v":-0.034},{"p":"A","g":"dis","c":"a","k":"d","t":28,"v":-0.026},{"p":"A","g":"dis","c":"a","k":"d","t":29,"v":-0.016},{"p":"A","g":"dis","c":"a","k":"d","t":30,"v":-0.005},{"p":"A","g":"dis","c":"a","k":"d","t":31,"v":0.003},{"p":"A","g":"dis","c":"a","k":"d","t":32,"v":0.011},{"p":"A","g":"dis","c":"a","k":"d","t":33,"v":0.019},{"p":"A","g":"dis","c":"a","k":"d","t":34,"v":0.027},
{"p":"H","g":"dis","c":"g","k":"s","t":20,"v":0},{"p":"H","g":"dis","c":"g","k":"s","t":22,"v":0.003},{"p":"H","g":"dis","c":"g","k":"s","t":24,"v":-0.003},{"p":"H","g":"dis","c":"g","k":"s","t":25,"v":0.001},{"p":"H","g":"dis","c":"g","k":"s","t":26,"v":0.003},{"p":"H","g":"dis","c":"g","k":"s","t":28,"v":-0.001},{"p":"H","g":"dis","c":"g","k":"s","t":30,"v":-0.001},{"p":"H","g":"dis","c":"g","k":"s","t":31,"v":0.004},{"p":"H","g":"dis","c":"g","k":"s","t":32,"v":0.008},{"p":"H","g":"dis","c":"g","k":"s","t":33,"v":0.01},{"p":"H","g":"dis","c":"g","k":"s","t":34,"v":0.008},
{"p":"H","g":"dis","c":"g","k":"d","t":20.2,"v":0.005},{"p":"H","g":"dis","c":"g","k":"d","t":20.8,"v":0.02},{"p":"H","g":"dis","c":"g","k":"d","t":21.5,"v":0.024},{"p":"H","g":"dis","c":"g","k":"d","t":22,"v":0.022},{"p":"H","g":"dis","c":"g","k":"d","t":23,"v":0.014},{"p":"H","g":"dis","c":"g","k":"d","t":24,"v":0.004},{"p":"H","g":"dis","c":"g","k":"d","t":25,"v":-0.005},{"p":"H","g":"dis","c":"g","k":"d","t":26,"v":-0.011},{"p":"H","g":"dis","c":"g","k":"d","t":27,"v":-0.018},{"p":"H","g":"dis","c":"g","k":"d","t":28,"v":-0.024},{"p":"H","g":"dis","c":"g","k":"d","t":29,"v":-0.027},{"p":"H","g":"dis","c":"g","k":"d","t":30,"v":-0.024},{"p":"H","g":"dis","c":"g","k":"d","t":31,"v":-0.018},{"p":"H","g":"dis","c":"g","k":"d","t":32,"v":-0.011},{"p":"H","g":"dis","c":"g","k":"d","t":33,"v":-0.006},{"p":"H","g":"dis","c":"g","k":"d","t":34,"v":-0.003},
{"p":"H","g":"dis","c":"b","k":"s","t":20,"v":0},{"p":"H","g":"dis","c":"b","k":"s","t":21,"v":0},{"p":"H","g":"dis","c":"b","k":"s","t":22,"v":-0.002},{"p":"H","g":"dis","c":"b","k":"s","t":23,"v":-0.006},{"p":"H","g":"dis","c":"b","k":"s","t":24,"v":-0.011},{"p":"H","g":"dis","c":"b","k":"s","t":25,"v":-0.019},{"p":"H","g":"dis","c":"b","k":"s","t":26,"v":-0.03},{"p":"H","g":"dis","c":"b","k":"s","t":27,"v":-0.034},{"p":"H","g":"dis","c":"b","k":"s","t":28,"v":-0.037},{"p":"H","g":"dis","c":"b","k":"s","t":29,"v":-0.039},{"p":"H","g":"dis","c":"b","k":"s","t":30,"v":-0.041},{"p":"H","g":"dis","c":"b","k":"s","t":31,"v":-0.037},{"p":"H","g":"dis","c":"b","k":"s","t":32,"v":-0.032},{"p":"H","g":"dis","c":"b","k":"s","t":33,"v":-0.028},{"p":"H","g":"dis","c":"b","k":"s","t":34,"v":-0.024},
{"p":"H","g":"dis","c":"b","k":"d","t":20.2,"v":0.005},{"p":"H","g":"dis","c":"b","k":"d","t":21,"v":0.01},{"p":"H","g":"dis","c":"b","k":"d","t":22,"v":0.02},{"p":"H","g":"dis","c":"b","k":"d","t":23,"v":0.01},{"p":"H","g":"dis","c":"b","k":"d","t":24,"v":0.001},{"p":"H","g":"dis","c":"b","k":"d","t":25,"v":-0.009},{"p":"H","g":"dis","c":"b","k":"d","t":26,"v":-0.019},{"p":"H","g":"dis","c":"b","k":"d","t":27,"v":-0.028},{"p":"H","g":"dis","c":"b","k":"d","t":28,"v":-0.034},{"p":"H","g":"dis","c":"b","k":"d","t":29,"v":-0.039},{"p":"H","g":"dis","c":"b","k":"d","t":30,"v":-0.043},{"p":"H","g":"dis","c":"b","k":"d","t":31,"v":-0.044},{"p":"H","g":"dis","c":"b","k":"d","t":32,"v":-0.044},{"p":"H","g":"dis","c":"b","k":"d","t":33,"v":-0.043},{"p":"H","g":"dis","c":"b","k":"d","t":34,"v":-0.043},
{"p":"H","g":"dis","c":"r","k":"s","t":20,"v":0},{"p":"H","g":"dis","c":"r","k":"s","t":21,"v":-0.003},{"p":"H","g":"dis","c":"r","k":"s","t":22,"v":-0.009},{"p":"H","g":"dis","c":"r","k":"s","t":23,"v":-0.01},{"p":"H","g":"dis","c":"r","k":"s","t":24,"v":-0.011},{"p":"H","g":"dis","c":"r","k":"s","t":25,"v":-0.022},{"p":"H","g":"dis","c":"r","k":"s","t":26,"v":-0.03},{"p":"H","g":"dis","c":"r","k":"s","t":27,"v":-0.034},{"p":"H","g":"dis","c":"r","k":"s","t":28,"v":-0.037},{"p":"H","g":"dis","c":"r","k":"s","t":29,"v":-0.037},{"p":"H","g":"dis","c":"r","k":"s","t":30,"v":-0.034},{"p":"H","g":"dis","c":"r","k":"s","t":31,"v":-0.034},{"p":"H","g":"dis","c":"r","k":"s","t":32,"v":-0.037},{"p":"H","g":"dis","c":"r","k":"s","t":33,"v":-0.03},{"p":"H","g":"dis","c":"r","k":"s","t":34,"v":-0.027},
{"p":"H","g":"dis","c":"r","k":"d","t":20,"v":0},{"p":"H","g":"dis","c":"r","k":"d","t":21,"v":-0.005},{"p":"H","g":"dis","c":"r","k":"d","t":22,"v":-0.011},{"p":"H","g":"dis","c":"r","k":"d","t":23,"v":-0.009},{"p":"H","g":"dis","c":"r","k":"d","t":24,"v":-0.008},{"p":"H","g":"dis","c":"r","k":"d","t":25,"v":-0.009},{"p":"H","g":"dis","c":"r","k":"d","t":26,"v":-0.011},{"p":"H","g":"dis","c":"r","k":"d","t":27,"v":-0.014},{"p":"H","g":"dis","c":"r","k":"d","t":28,"v":-0.018},{"p":"H","g":"dis","c":"r","k":"d","t":29,"v":-0.022},{"p":"H","g":"dis","c":"r","k":"d","t":30,"v":-0.028},{"p":"H","g":"dis","c":"r","k":"d","t":31,"v":-0.033},{"p":"H","g":"dis","c":"r","k":"d","t":32,"v":-0.037},{"p":"H","g":"dis","c":"r","k":"d","t":33,"v":-0.037},{"p":"H","g":"dis","c":"r","k":"d","t":34,"v":-0.034},
{"p":"B","g":"dp","c":"g","k":"s","t":17.5,"v":0},{"p":"B","g":"dp","c":"g","k":"s","t":18,"v":0.016},{"p":"B","g":"dp","c":"g","k":"s","t":19,"v":0.035},{"p":"B","g":"dp","c":"g","k":"s","t":20,"v":0.052},{"p":"B","g":"dp","c":"g","k":"s","t":21,"v":0.058},{"p":"B","g":"dp","c":"g","k":"s","t":22,"v":0.064},{"p":"B","g":"dp","c":"g","k":"s","t":23,"v":0.067},{"p":"B","g":"dp","c":"g","k":"s","t":24,"v":0.067},{"p":"B","g":"dp","c":"g","k":"s","t":25,"v":0.069},{"p":"B","g":"dp","c":"g","k":"s","t":26,"v":0.07},{"p":"B","g":"dp","c":"g","k":"s","t":27,"v":0.07},{"p":"B","g":"dp","c":"g","k":"s","t":28,"v":0.067},{"p":"B","g":"dp","c":"g","k":"s","t":29,"v":0.061},{"p":"B","g":"dp","c":"g","k":"s","t":30,"v":0.054},{"p":"B","g":"dp","c":"g","k":"s","t":31,"v":0.045},{"p":"B","g":"dp","c":"g","k":"s","t":32,"v":0.035},{"p":"B","g":"dp","c":"g","k":"s","t":33,"v":0.026},{"p":"B","g":"dp","c":"g","k":"s","t":34,"v":0.016},
{"p":"B","g":"dp","c":"g","k":"d","t":17.5,"v":0},{"p":"B","g":"dp","c":"g","k":"d","t":18,"v":0.002},{"p":"B","g":"dp","c":"g","k":"d","t":19,"v":0.016},{"p":"B","g":"dp","c":"g","k":"d","t":20,"v":0.042},{"p":"B","g":"dp","c":"g","k":"d","t":21,"v":0.057},{"p":"B","g":"dp","c":"g","k":"d","t":22,"v":0.064},{"p":"B","g":"dp","c":"g","k":"d","t":23,"v":0.069},{"p":"B","g":"dp","c":"g","k":"d","t":24,"v":0.067},{"p":"B","g":"dp","c":"g","k":"d","t":25,"v":0.067},{"p":"B","g":"dp","c":"g","k":"d","t":26,"v":0.061},{"p":"B","g":"dp","c":"g","k":"d","t":27,"v":0.054},{"p":"B","g":"dp","c":"g","k":"d","t":28,"v":0.048},{"p":"B","g":"dp","c":"g","k":"d","t":29,"v":0.044},{"p":"B","g":"dp","c":"g","k":"d","t":30,"v":0.039},{"p":"B","g":"dp","c":"g","k":"d","t":31,"v":0.035},{"p":"B","g":"dp","c":"g","k":"d","t":32,"v":0.033},{"p":"B","g":"dp","c":"g","k":"d","t":33,"v":0.032},{"p":"B","g":"dp","c":"g","k":"d","t":34,"v":0.032},
{"p":"B","g":"dp","c":"b","k":"s","t":17.5,"v":0},{"p":"B","g":"dp","c":"b","k":"s","t":18,"v":-0.009},{"p":"B","g":"dp","c":"b","k":"s","t":19,"v":-0.019},{"p":"B","g":"dp","c":"b","k":"s","t":20,"v":-0.028},{"p":"B","g":"dp","c":"b","k":"s","t":21,"v":-0.04},{"p":"B","g":"dp","c":"b","k":"s","t":22,"v":-0.053},{"p":"B","g":"dp","c":"b","k":"s","t":23,"v":-0.062},{"p":"B","g":"dp","c":"b","k":"s","t":24,"v":-0.066},{"p":"B","g":"dp","c":"b","k":"s","t":25,"v":-0.066},{"p":"B","g":"dp","c":"b","k":"s","t":26,"v":-0.062},{"p":"B","g":"dp","c":"b","k":"s","t":27,"v":-0.057},{"p":"B","g":"dp","c":"b","k":"s","t":28,"v":-0.053},{"p":"B","g":"dp","c":"b","k":"s","t":29,"v":-0.049},{"p":"B","g":"dp","c":"b","k":"s","t":30,"v":-0.044},{"p":"B","g":"dp","c":"b","k":"s","t":31,"v":-0.039},{"p":"B","g":"dp","c":"b","k":"s","t":32,"v":-0.034},{"p":"B","g":"dp","c":"b","k":"s","t":33,"v":-0.028},{"p":"B","g":"dp","c":"b","k":"s","t":34,"v":-0.021},
{"p":"B","g":"dp","c":"b","k":"d","t":17.5,"v":0},{"p":"B","g":"dp","c":"b","k":"d","t":18,"v":-0.018},{"p":"B","g":"dp","c":"b","k":"d","t":19,"v":-0.028},{"p":"B","g":"dp","c":"b","k":"d","t":20,"v":-0.032},{"p":"B","g":"dp","c":"b","k":"d","t":21,"v":-0.035},{"p":"B","g":"dp","c":"b","k":"d","t":22,"v":-0.038},{"p":"B","g":"dp","c":"b","k":"d","t":23,"v":-0.04},{"p":"B","g":"dp","c":"b","k":"d","t":24,"v":-0.042},{"p":"B","g":"dp","c":"b","k":"d","t":26,"v":-0.043},{"p":"B","g":"dp","c":"b","k":"d","t":28,"v":-0.043},{"p":"B","g":"dp","c":"b","k":"d","t":29,"v":-0.04},{"p":"B","g":"dp","c":"b","k":"d","t":30,"v":-0.038},{"p":"B","g":"dp","c":"b","k":"d","t":31,"v":-0.034},{"p":"B","g":"dp","c":"b","k":"d","t":32,"v":-0.029},{"p":"B","g":"dp","c":"b","k":"d","t":33,"v":-0.025},{"p":"B","g":"dp","c":"b","k":"d","t":34,"v":-0.021},
{"p":"B","g":"dp","c":"r","k":"s","t":17.5,"v":0},{"p":"B","g":"dp","c":"r","k":"s","t":18,"v":-0.021},{"p":"B","g":"dp","c":"r","k":"s","t":19,"v":-0.053},{"p":"B","g":"dp","c":"r","k":"s","t":20,"v":-0.074},{"p":"B","g":"dp","c":"r","k":"s","t":21,"v":-0.091},{"p":"B","g":"dp","c":"r","k":"s","t":22,"v":-0.103},{"p":"B","g":"dp","c":"r","k":"s","t":23,"v":-0.112},{"p":"B","g":"dp","c":"r","k":"s","t":24,"v":-0.116},{"p":"B","g":"dp","c":"r","k":"s","t":25,"v":-0.12},{"p":"B","g":"dp","c":"r","k":"s","t":26,"v":-0.122},{"p":"B","g":"dp","c":"r","k":"s","t":27,"v":-0.12},{"p":"B","g":"dp","c":"r","k":"s","t":28,"v":-0.112},{"p":"B","g":"dp","c":"r","k":"s","t":29,"v":-0.1},{"p":"B","g":"dp","c":"r","k":"s","t":30,"v":-0.084},{"p":"B","g":"dp","c":"r","k":"s","t":31,"v":-0.072},{"p":"B","g":"dp","c":"r","k":"s","t":32,"v":-0.059},{"p":"B","g":"dp","c":"r","k":"s","t":33,"v":-0.047},{"p":"B","g":"dp","c":"r","k":"s","t":34,"v":-0.034},
{"p":"B","g":"dp","c":"r","k":"d","t":17.5,"v":0},{"p":"B","g":"dp","c":"r","k":"d","t":18,"v":-0.02},{"p":"B","g":"dp","c":"r","k":"d","t":19,"v":-0.045},{"p":"B","g":"dp","c":"r","k":"d","t":20,"v":-0.068},{"p":"B","g":"dp","c":"r","k":"d","t":21,"v":-0.097},{"p":"B","g":"dp","c":"r","k":"d","t":22,"v":-0.11},{"p":"B","g":"dp","c":"r","k":"d","t":23,"v":-0.116},{"p":"B","g":"dp","c":"r","k":"d","t":24,"v":-0.116},{"p":"B","g":"dp","c":"r","k":"d","t":25,"v":-0.112},{"p":"B","g":"dp","c":"r","k":"d","t":26,"v":-0.103},{"p":"B","g":"dp","c":"r","k":"d","t":27,"v":-0.095},{"p":"B","g":"dp","c":"r","k":"d","t":28,"v":-0.087},{"p":"B","g":"dp","c":"r","k":"d","t":29,"v":-0.081},{"p":"B","g":"dp","c":"r","k":"d","t":30,"v":-0.074},{"p":"B","g":"dp","c":"r","k":"d","t":31,"v":-0.068},{"p":"B","g":"dp","c":"r","k":"d","t":32,"v":-0.063},{"p":"B","g":"dp","c":"r","k":"d","t":33,"v":-0.062},{"p":"B","g":"dp","c":"r","k":"d","t":34,"v":-0.059},
{"p":"A","g":"dp","c":"a","k":"s","t":17.5,"v":0},{"p":"A","g":"dp","c":"a","k":"s","t":18,"v":-0.007},{"p":"A","g":"dp","c":"a","k":"s","t":19,"v":-0.029},{"p":"A","g":"dp","c":"a","k":"s","t":20,"v":-0.066},{"p":"A","g":"dp","c":"a","k":"s","t":21,"v":-0.104},{"p":"A","g":"dp","c":"a","k":"s","t":22,"v":-0.141},{"p":"A","g":"dp","c":"a","k":"s","t":23,"v":-0.179},{"p":"A","g":"dp","c":"a","k":"s","t":24,"v":-0.211},{"p":"A","g":"dp","c":"a","k":"s","t":25,"v":-0.238},{"p":"A","g":"dp","c":"a","k":"s","t":26,"v":-0.261},{"p":"A","g":"dp","c":"a","k":"s","t":27,"v":-0.283},{"p":"A","g":"dp","c":"a","k":"s","t":28,"v":-0.302},{"p":"A","g":"dp","c":"a","k":"s","t":29,"v":-0.316},{"p":"A","g":"dp","c":"a","k":"s","t":30,"v":-0.329},{"p":"A","g":"dp","c":"a","k":"s","t":31,"v":-0.339},{"p":"A","g":"dp","c":"a","k":"s","t":32,"v":-0.347},{"p":"A","g":"dp","c":"a","k":"s","t":33,"v":-0.353},{"p":"A","g":"dp","c":"a","k":"s","t":34,"v":-0.359},
{"p":"A","g":"dp","c":"a","k":"d","t":17.5,"v":0},{"p":"A","g":"dp","c":"a","k":"d","t":18,"v":-0.007},{"p":"A","g":"dp","c":"a","k":"d","t":19,"v":-0.034},{"p":"A","g":"dp","c":"a","k":"d","t":20,"v":-0.056},{"p":"A","g":"dp","c":"a","k":"d","t":21,"v":-0.077},{"p":"A","g":"dp","c":"a","k":"d","t":22,"v":-0.095},{"p":"A","g":"dp","c":"a","k":"d","t":23,"v":-0.111},{"p":"A","g":"dp","c":"a","k":"d","t":24,"v":-0.127},{"p":"A","g":"dp","c":"a","k":"d","t":25,"v":-0.143},{"p":"A","g":"dp","c":"a","k":"d","t":26,"v":-0.158},{"p":"A","g":"dp","c":"a","k":"d","t":27,"v":-0.173},{"p":"A","g":"dp","c":"a","k":"d","t":28,"v":-0.19},{"p":"A","g":"dp","c":"a","k":"d","t":29,"v":-0.203},{"p":"A","g":"dp","c":"a","k":"d","t":30,"v":-0.216},{"p":"A","g":"dp","c":"a","k":"d","t":31,"v":-0.229},{"p":"A","g":"dp","c":"a","k":"d","t":32,"v":-0.24},{"p":"A","g":"dp","c":"a","k":"d","t":33,"v":-0.251},{"p":"A","g":"dp","c":"a","k":"d","t":34,"v":-0.259},
{"p":"H","g":"dp","c":"g","k":"s","t":17.5,"v":0},{"p":"H","g":"dp","c":"g","k":"s","t":18,"v":0.027},{"p":"H","g":"dp","c":"g","k":"s","t":19,"v":0.037},{"p":"H","g":"dp","c":"g","k":"s","t":20,"v":0.058},{"p":"H","g":"dp","c":"g","k":"s","t":21,"v":0.067},{"p":"H","g":"dp","c":"g","k":"s","t":22,"v":0.08},{"p":"H","g":"dp","c":"g","k":"s","t":23,"v":0.099},{"p":"H","g":"dp","c":"g","k":"s","t":24,"v":0.103},{"p":"H","g":"dp","c":"g","k":"s","t":25,"v":0.094},{"p":"H","g":"dp","c":"g","k":"s","t":26,"v":0.093},{"p":"H","g":"dp","c":"g","k":"s","t":27,"v":0.096},{"p":"H","g":"dp","c":"g","k":"s","t":28,"v":0.094},{"p":"H","g":"dp","c":"g","k":"s","t":29,"v":0.099},{"p":"H","g":"dp","c":"g","k":"s","t":30,"v":0.094},{"p":"H","g":"dp","c":"g","k":"s","t":31,"v":0.088},{"p":"H","g":"dp","c":"g","k":"s","t":32,"v":0.084},{"p":"H","g":"dp","c":"g","k":"s","t":33,"v":0.077},{"p":"H","g":"dp","c":"g","k":"s","t":34,"v":0.067},
{"p":"H","g":"dp","c":"g","k":"d","t":17.5,"v":0},{"p":"H","g":"dp","c":"g","k":"d","t":18,"v":0.025},{"p":"H","g":"dp","c":"g","k":"d","t":19,"v":0.046},{"p":"H","g":"dp","c":"g","k":"d","t":20,"v":0.055},{"p":"H","g":"dp","c":"g","k":"d","t":21,"v":0.061},{"p":"H","g":"dp","c":"g","k":"d","t":22,"v":0.065},{"p":"H","g":"dp","c":"g","k":"d","t":24,"v":0.067},{"p":"H","g":"dp","c":"g","k":"d","t":26,"v":0.067},{"p":"H","g":"dp","c":"g","k":"d","t":28,"v":0.07},{"p":"H","g":"dp","c":"g","k":"d","t":30,"v":0.075},{"p":"H","g":"dp","c":"g","k":"d","t":32,"v":0.08},{"p":"H","g":"dp","c":"g","k":"d","t":33,"v":0.08},{"p":"H","g":"dp","c":"g","k":"d","t":34,"v":0.075},
{"p":"H","g":"dp","c":"b","k":"s","t":17.5,"v":0},{"p":"H","g":"dp","c":"b","k":"s","t":18,"v":0.004},{"p":"H","g":"dp","c":"b","k":"s","t":19,"v":0.008},{"p":"H","g":"dp","c":"b","k":"s","t":20,"v":0.011},{"p":"H","g":"dp","c":"b","k":"s","t":21,"v":0.016},{"p":"H","g":"dp","c":"b","k":"s","t":22,"v":0.027},{"p":"H","g":"dp","c":"b","k":"s","t":23,"v":0.024},{"p":"H","g":"dp","c":"b","k":"s","t":24,"v":0.016},{"p":"H","g":"dp","c":"b","k":"s","t":25,"v":0.008},{"p":"H","g":"dp","c":"b","k":"s","t":26,"v":0.001},{"p":"H","g":"dp","c":"b","k":"s","t":27,"v":-0.006},{"p":"H","g":"dp","c":"b","k":"s","t":28,"v":-0.014},{"p":"H","g":"dp","c":"b","k":"s","t":29,"v":-0.022},{"p":"H","g":"dp","c":"b","k":"s","t":30,"v":-0.027},{"p":"H","g":"dp","c":"b","k":"s","t":31,"v":-0.034},{"p":"H","g":"dp","c":"b","k":"s","t":32,"v":-0.039},{"p":"H","g":"dp","c":"b","k":"s","t":33,"v":-0.049},{"p":"H","g":"dp","c":"b","k":"s","t":34,"v":-0.058},
{"p":"H","g":"dp","c":"b","k":"d","t":17.5,"v":0.005},{"p":"H","g":"dp","c":"b","k":"d","t":18,"v":0.029},{"p":"H","g":"dp","c":"b","k":"d","t":19,"v":0.037},{"p":"H","g":"dp","c":"b","k":"d","t":20,"v":0.029},{"p":"H","g":"dp","c":"b","k":"d","t":21,"v":0.024},{"p":"H","g":"dp","c":"b","k":"d","t":22,"v":0.02},{"p":"H","g":"dp","c":"b","k":"d","t":23,"v":0.016},{"p":"H","g":"dp","c":"b","k":"d","t":24,"v":0.008},{"p":"H","g":"dp","c":"b","k":"d","t":25,"v":-0.001},{"p":"H","g":"dp","c":"b","k":"d","t":26,"v":-0.009},{"p":"H","g":"dp","c":"b","k":"d","t":27,"v":-0.015},{"p":"H","g":"dp","c":"b","k":"d","t":28,"v":-0.022},{"p":"H","g":"dp","c":"b","k":"d","t":29,"v":-0.027},{"p":"H","g":"dp","c":"b","k":"d","t":30,"v":-0.034},{"p":"H","g":"dp","c":"b","k":"d","t":31,"v":-0.039},{"p":"H","g":"dp","c":"b","k":"d","t":32,"v":-0.044},{"p":"H","g":"dp","c":"b","k":"d","t":33,"v":-0.049},{"p":"H","g":"dp","c":"b","k":"d","t":34,"v":-0.056},
{"p":"H","g":"dp","c":"r","k":"s","t":17.5,"v":0},{"p":"H","g":"dp","c":"r","k":"s","t":18,"v":-0.009},{"p":"H","g":"dp","c":"r","k":"s","t":19,"v":-0.022},{"p":"H","g":"dp","c":"r","k":"s","t":20,"v":-0.034},{"p":"H","g":"dp","c":"r","k":"s","t":21,"v":-0.039},{"p":"H","g":"dp","c":"r","k":"s","t":22,"v":-0.049},{"p":"H","g":"dp","c":"r","k":"s","t":23,"v":-0.058},{"p":"H","g":"dp","c":"r","k":"s","t":24,"v":-0.069},{"p":"H","g":"dp","c":"r","k":"s","t":25,"v":-0.065},{"p":"H","g":"dp","c":"r","k":"s","t":26,"v":-0.066},{"p":"H","g":"dp","c":"r","k":"s","t":27,"v":-0.062},{"p":"H","g":"dp","c":"r","k":"s","t":28,"v":-0.075},{"p":"H","g":"dp","c":"r","k":"s","t":29,"v":-0.081},{"p":"H","g":"dp","c":"r","k":"s","t":30,"v":-0.085},{"p":"H","g":"dp","c":"r","k":"s","t":31,"v":-0.09},{"p":"H","g":"dp","c":"r","k":"s","t":32,"v":-0.094},{"p":"H","g":"dp","c":"r","k":"s","t":33,"v":-0.098},{"p":"H","g":"dp","c":"r","k":"s","t":34,"v":-0.1},
{"p":"H","g":"dp","c":"r","k":"d","t":17.5,"v":0},{"p":"H","g":"dp","c":"r","k":"d","t":18,"v":-0.005},{"p":"H","g":"dp","c":"r","k":"d","t":19,"v":-0.014},{"p":"H","g":"dp","c":"r","k":"d","t":20,"v":-0.022},{"p":"H","g":"dp","c":"r","k":"d","t":21,"v":-0.03},{"p":"H","g":"dp","c":"r","k":"d","t":22,"v":-0.037},{"p":"H","g":"dp","c":"r","k":"d","t":23,"v":-0.043},{"p":"H","g":"dp","c":"r","k":"d","t":24,"v":-0.049},{"p":"H","g":"dp","c":"r","k":"d","t":25,"v":-0.056},{"p":"H","g":"dp","c":"r","k":"d","t":26,"v":-0.062},{"p":"H","g":"dp","c":"r","k":"d","t":27,"v":-0.069},{"p":"H","g":"dp","c":"r","k":"d","t":28,"v":-0.075},{"p":"H","g":"dp","c":"r","k":"d","t":29,"v":-0.079},{"p":"H","g":"dp","c":"r","k":"d","t":30,"v":-0.084},{"p":"H","g":"dp","c":"r","k":"d","t":31,"v":-0.088},{"p":"H","g":"dp","c":"r","k":"d","t":32,"v":-0.09},{"p":"H","g":"dp","c":"r","k":"d","t":33,"v":-0.091},{"p":"H","g":"dp","c":"r","k":"d","t":34,"v":-0.094}
]},
"columns": 3,
"bounds": "flush",
"align": "each",
"spacing": {"row": 59, "column": 105},
"concat": [
{"width": 250, "height": 159,
 "title": {"text": "Blade", "fontSize": 31, "dx": 168, "offset": 30, "anchor": "middle", "frame": "group"},
 "resolve": {"axis": {"x": "independent", "y": "independent"}},
 "layer": [
  {"data": {"values": [{}]}, "mark": {"type": "rule", "color": "black", "strokeWidth": 1.3}, "encoding": {"y": {"datum": 0, "type": "quantitative", "axis": null, "scale": {"domain": [-0.3, 0.3], "nice": false}}}},
  {"data": {"name": "d"}, "transform": [{"filter": "datum.p==='B'&&datum.g==='wt'"}], "mark": {"type": "line", "interpolate": "monotone"},
   "encoding": {
    "x": {"field": "t", "type": "quantitative", "scale": {"domain": [16, 34], "nice": false, "zero": false}, "axis": {"grid": true, "values": [16, 20, 24, 28, 32], "format": "d", "title": null, "gridOpacity": {"condition": {"test": "datum.value<=16", "value": 0}, "value": 1}}},
    "y": {"field": "v", "type": "quantitative", "scale": {"domain": [-0.3, 0.3], "nice": false}, "axis": {"grid": true, "values": [-0.3, -0.2, -0.1, 0, 0.1, 0.2, 0.3], "format": ".1f", "title": "wild type", "titleX": -81, "titleBaseline": "alphabetic", "titleFontSize": 21, "gridOpacity": {"condition": {"test": "datum.value>0.29||datum.value<-0.29", "value": 0}, "value": 1}}},
    "color": {"field": "c", "type": "nominal", "scale": {"domain": ["g", "b", "r", "a"], "range": ["#008000", "#0000ff", "#8b0000", "#3a5ab4"]}, "legend": null},
    "strokeDash": {"field": "k", "type": "nominal", "scale": {"domain": ["s", "d"], "range": [[1, 0], [10, 6]]}, "legend": null},
    "strokeWidth": {"condition": {"test": "datum.k==='d'", "value": 3.5}, "value": 1.6}}},
  {"data": {"values": [{}]}, "mark": {"type": "point", "opacity": 0}, "encoding": {"x": {"datum": 16, "type": "quantitative", "scale": {"domain": [16, 34], "nice": false, "zero": false}, "axis": {"orient": "top", "labels": false, "ticks": false, "domain": false, "grid": false, "title": "cumulative xx shear", "titleX": 121, "titleY": -41, "titleBaseline": "alphabetic", "titleAlign": "center", "titleAngle": 0, "titleFontSize": 19.5}}}}
 ]},
{"width": 260, "height": 159,
 "resolve": {"axis": {"x": "independent", "y": "independent"}},
 "layer": [
  {"data": {"values": [{}]}, "mark": {"type": "rule", "color": "black", "strokeWidth": 1.3}, "encoding": {"y": {"datum": 0, "type": "quantitative", "axis": null, "scale": {"domain": [-0.4, 0.1], "nice": false}}}},
  {"data": {"name": "d"}, "transform": [{"filter": "datum.p==='A'&&datum.g==='wt'"}], "mark": {"type": "line", "interpolate": "monotone"},
   "encoding": {
    "x": {"field": "t", "type": "quantitative", "scale": {"domain": [16, 34], "nice": false, "zero": false}, "axis": {"grid": true, "values": [16, 20, 24, 28, 32], "format": "d", "title": null, "gridOpacity": {"condition": {"test": "datum.value<=16", "value": 0}, "value": 1}}},
    "y": {"field": "v", "type": "quantitative", "scale": {"domain": [-0.4, 0.1], "nice": false}, "axis": {"grid": true, "values": [-0.4, -0.3, -0.2, -0.1, 0, 0.1], "format": ".1f", "title": null, "gridOpacity": {"condition": {"test": "datum.value>0.09||datum.value<-0.39", "value": 0}, "value": 1}}},
    "color": {"field": "c", "type": "nominal", "scale": {"domain": ["g", "b", "r", "a"], "range": ["#008000", "#0000ff", "#8b0000", "#3a5ab4"]}, "legend": null},
    "strokeDash": {"field": "k", "type": "nominal", "scale": {"domain": ["s", "d"], "range": [[1, 0], [10, 6]]}, "legend": null},
    "strokeWidth": {"condition": {"test": "datum.k==='d'", "value": 3.5}, "value": 1.6}}},
  {"data": {"values": [{}]}, "mark": {"type": "point", "opacity": 0}, "encoding": {"x": {"datum": 16, "type": "quantitative", "scale": {"domain": [16, 34], "nice": false, "zero": false}, "axis": {"orient": "top", "labels": false, "ticks": false, "domain": false, "grid": false, "title": ["cumulative relative", "area change"], "titleX": 128, "titleY": -51, "titleBaseline": "alphabetic", "titleAlign": "center", "titleAngle": 0, "titleFontSize": 19.5, "titleLineHeight": 25}}}}
 ]},
{"width": 250, "height": 159,
 "title": {"text": "Hinge", "fontSize": 31, "dx": -11, "offset": 30, "anchor": "middle", "frame": "group"},
 "resolve": {"axis": {"x": "independent", "y": "independent"}},
 "layer": [
  {"data": {"values": [{}]}, "mark": {"type": "rule", "color": "black", "strokeWidth": 1.3}, "encoding": {"y": {"datum": 0, "type": "quantitative", "axis": null, "scale": {"domain": [-0.3, 0.3], "nice": false}}}},
  {"data": {"name": "d"}, "transform": [{"filter": "datum.p==='H'&&datum.g==='wt'"}], "mark": {"type": "line", "interpolate": "monotone"},
   "encoding": {
    "x": {"field": "t", "type": "quantitative", "scale": {"domain": [16, 34], "nice": false, "zero": false}, "axis": {"grid": true, "values": [16, 20, 24, 28, 32], "format": "d", "title": null, "gridOpacity": {"condition": {"test": "datum.value<=16", "value": 0}, "value": 1}}},
    "y": {"field": "v", "type": "quantitative", "scale": {"domain": [-0.3, 0.3], "nice": false}, "axis": {"grid": true, "values": [-0.3, -0.2, -0.1, 0, 0.1, 0.2, 0.3], "format": ".1f", "title": null, "gridOpacity": {"condition": {"test": "datum.value>0.29||datum.value<-0.29", "value": 0}, "value": 1}}},
    "color": {"field": "c", "type": "nominal", "scale": {"domain": ["g", "b", "r", "a"], "range": ["#008000", "#0000ff", "#8b0000", "#3a5ab4"]}, "legend": null},
    "strokeDash": {"field": "k", "type": "nominal", "scale": {"domain": ["s", "d"], "range": [[1, 0], [10, 6]]}, "legend": null},
    "strokeWidth": {"condition": {"test": "datum.k==='d'", "value": 3.5}, "value": 1.6}}},
  {"data": {"values": [{}]}, "mark": {"type": "point", "opacity": 0}, "encoding": {"x": {"datum": 16, "type": "quantitative", "scale": {"domain": [16, 34], "nice": false, "zero": false}, "axis": {"orient": "top", "labels": false, "ticks": false, "domain": false, "grid": false, "title": "cumulative xx shear", "titleX": 107, "titleY": -41, "titleBaseline": "alphabetic", "titleAlign": "center", "titleAngle": 0, "titleFontSize": 19.5}}}}
 ]},
{"width": 250, "height": 159,
 "resolve": {"axis": {"y": "independent"}},
 "layer": [
  {"data": {"values": [{}]}, "mark": {"type": "rule", "color": "black", "strokeWidth": 1.3}, "encoding": {"y": {"datum": 0, "type": "quantitative", "axis": null, "scale": {"domain": [-0.3, 0.3], "nice": false}}}},
  {"data": {"name": "d"}, "transform": [{"filter": "datum.p==='B'&&datum.g==='ant'"}], "mark": {"type": "line", "interpolate": "monotone"},
   "encoding": {
    "x": {"field": "t", "type": "quantitative", "scale": {"domain": [16, 34], "nice": false, "zero": false}, "axis": {"grid": true, "values": [16, 20, 24, 28, 32], "format": "d", "title": null, "gridOpacity": {"condition": {"test": "datum.value<=16", "value": 0}, "value": 1}}},
    "y": {"field": "v", "type": "quantitative", "scale": {"domain": [-0.3, 0.3], "nice": false}, "axis": {"grid": true, "values": [-0.3, -0.2, -0.1, 0, 0.1, 0.2, 0.3], "format": ".1f", "title": "anterior abl.", "titleX": -81, "titleBaseline": "alphabetic", "titleFontSize": 21, "gridOpacity": {"condition": {"test": "datum.value>0.29||datum.value<-0.29", "value": 0}, "value": 1}}},
    "color": {"field": "c", "type": "nominal", "scale": {"domain": ["g", "b", "r", "a"], "range": ["#008000", "#0000ff", "#8b0000", "#3a5ab4"]}, "legend": null},
    "strokeDash": {"field": "k", "type": "nominal", "scale": {"domain": ["s", "d"], "range": [[1, 0], [10, 6]]}, "legend": null},
    "strokeWidth": {"condition": {"test": "datum.k==='d'", "value": 3.5}, "value": 1.6}}}
 ]},
{"width": 260, "height": 159,
 "resolve": {"axis": {"y": "independent"}},
 "layer": [
  {"data": {"values": [{}]}, "mark": {"type": "rule", "color": "black", "strokeWidth": 1.3}, "encoding": {"y": {"datum": 0, "type": "quantitative", "axis": null, "scale": {"domain": [-0.4, 0.1], "nice": false}}}},
  {"data": {"name": "d"}, "transform": [{"filter": "datum.p==='A'&&datum.g==='ant'"}], "mark": {"type": "line", "interpolate": "monotone"},
   "encoding": {
    "x": {"field": "t", "type": "quantitative", "scale": {"domain": [16, 34], "nice": false, "zero": false}, "axis": {"grid": true, "values": [16, 20, 24, 28, 32], "format": "d", "title": null, "gridOpacity": {"condition": {"test": "datum.value<=16", "value": 0}, "value": 1}}},
    "y": {"field": "v", "type": "quantitative", "scale": {"domain": [-0.4, 0.1], "nice": false}, "axis": {"grid": true, "values": [-0.4, -0.3, -0.2, -0.1, 0, 0.1], "format": ".1f", "title": null, "gridOpacity": {"condition": {"test": "datum.value>0.09||datum.value<-0.39", "value": 0}, "value": 1}}},
    "color": {"field": "c", "type": "nominal", "scale": {"domain": ["g", "b", "r", "a"], "range": ["#008000", "#0000ff", "#8b0000", "#3a5ab4"]}, "legend": null},
    "strokeDash": {"field": "k", "type": "nominal", "scale": {"domain": ["s", "d"], "range": [[1, 0], [10, 6]]}, "legend": null},
    "strokeWidth": {"condition": {"test": "datum.k==='d'", "value": 3.5}, "value": 1.6}}}
 ]},
{"width": 250, "height": 159,
 "resolve": {"axis": {"y": "independent"}},
 "layer": [
  {"data": {"values": [{}]}, "mark": {"type": "rule", "color": "black", "strokeWidth": 1.3}, "encoding": {"y": {"datum": 0, "type": "quantitative", "axis": null, "scale": {"domain": [-0.3, 0.3], "nice": false}}}},
  {"data": {"name": "d"}, "transform": [{"filter": "datum.p==='H'&&datum.g==='ant'"}], "mark": {"type": "line", "interpolate": "monotone"},
   "encoding": {
    "x": {"field": "t", "type": "quantitative", "scale": {"domain": [16, 34], "nice": false, "zero": false}, "axis": {"grid": true, "values": [16, 20, 24, 28, 32], "format": "d", "title": null, "gridOpacity": {"condition": {"test": "datum.value<=16", "value": 0}, "value": 1}}},
    "y": {"field": "v", "type": "quantitative", "scale": {"domain": [-0.3, 0.3], "nice": false}, "axis": {"grid": true, "values": [-0.3, -0.2, -0.1, 0, 0.1, 0.2, 0.3], "format": ".1f", "title": null, "gridOpacity": {"condition": {"test": "datum.value>0.29||datum.value<-0.29", "value": 0}, "value": 1}}},
    "color": {"field": "c", "type": "nominal", "scale": {"domain": ["g", "b", "r", "a"], "range": ["#008000", "#0000ff", "#8b0000", "#3a5ab4"]}, "legend": null},
    "strokeDash": {"field": "k", "type": "nominal", "scale": {"domain": ["s", "d"], "range": [[1, 0], [10, 6]]}, "legend": null},
    "strokeWidth": {"condition": {"test": "datum.k==='d'", "value": 3.5}, "value": 1.6}}}
 ]},
{"width": 250, "height": 159,
 "resolve": {"axis": {"y": "independent"}},
 "layer": [
  {"data": {"values": [{}]}, "mark": {"type": "rule", "color": "black", "strokeWidth": 1.3}, "encoding": {"y": {"datum": 0, "type": "quantitative", "axis": null, "scale": {"domain": [-0.3, 0.3], "nice": false}}}},
  {"data": {"name": "d"}, "transform": [{"filter": "datum.p==='B'&&datum.g==='dis'"}], "mark": {"type": "line", "interpolate": "monotone"},
   "encoding": {
    "x": {"field": "t", "type": "quantitative", "scale": {"domain": [16, 34], "nice": false, "zero": false}, "axis": {"grid": true, "values": [16, 20, 24, 28, 32], "format": "d", "title": null, "gridOpacity": {"condition": {"test": "datum.value<=16", "value": 0}, "value": 1}}},
    "y": {"field": "v", "type": "quantitative", "scale": {"domain": [-0.3, 0.3], "nice": false}, "axis": {"grid": true, "values": [-0.3, -0.2, -0.1, 0, 0.1, 0.2, 0.3], "format": ".1f", "title": "distal abl.", "titleX": -81, "titleBaseline": "alphabetic", "titleFontSize": 21, "gridOpacity": {"condition": {"test": "datum.value>0.29||datum.value<-0.29", "value": 0}, "value": 1}}},
    "color": {"field": "c", "type": "nominal", "scale": {"domain": ["g", "b", "r", "a"], "range": ["#008000", "#0000ff", "#8b0000", "#3a5ab4"]}, "legend": null},
    "strokeDash": {"field": "k", "type": "nominal", "scale": {"domain": ["s", "d"], "range": [[1, 0], [10, 6]]}, "legend": null},
    "strokeWidth": {"condition": {"test": "datum.k==='d'", "value": 3.5}, "value": 1.6}}}
 ]},
{"width": 260, "height": 159,
 "resolve": {"axis": {"y": "independent"}},
 "layer": [
  {"data": {"values": [{}]}, "mark": {"type": "rule", "color": "black", "strokeWidth": 1.3}, "encoding": {"y": {"datum": 0, "type": "quantitative", "axis": null, "scale": {"domain": [-0.4, 0.1], "nice": false}}}},
  {"data": {"name": "d"}, "transform": [{"filter": "datum.p==='A'&&datum.g==='dis'"}], "mark": {"type": "line", "interpolate": "monotone"},
   "encoding": {
    "x": {"field": "t", "type": "quantitative", "scale": {"domain": [16, 34], "nice": false, "zero": false}, "axis": {"grid": true, "values": [16, 20, 24, 28, 32], "format": "d", "title": null, "gridOpacity": {"condition": {"test": "datum.value<=16", "value": 0}, "value": 1}}},
    "y": {"field": "v", "type": "quantitative", "scale": {"domain": [-0.4, 0.1], "nice": false}, "axis": {"grid": true, "values": [-0.4, -0.3, -0.2, -0.1, 0, 0.1], "format": ".1f", "title": null, "gridOpacity": {"condition": {"test": "datum.value>0.09||datum.value<-0.39", "value": 0}, "value": 1}}},
    "color": {"field": "c", "type": "nominal", "scale": {"domain": ["g", "b", "r", "a"], "range": ["#008000", "#0000ff", "#8b0000", "#3a5ab4"]}, "legend": null},
    "strokeDash": {"field": "k", "type": "nominal", "scale": {"domain": ["s", "d"], "range": [[1, 0], [10, 6]]}, "legend": null},
    "strokeWidth": {"condition": {"test": "datum.k==='d'", "value": 3.5}, "value": 1.6}}}
 ]},
{"width": 250, "height": 159,
 "resolve": {"axis": {"y": "independent"}},
 "layer": [
  {"data": {"values": [{}]}, "mark": {"type": "rule", "color": "black", "strokeWidth": 1.3}, "encoding": {"y": {"datum": 0, "type": "quantitative", "axis": null, "scale": {"domain": [-0.3, 0.3], "nice": false}}}},
  {"data": {"name": "d"}, "transform": [{"filter": "datum.p==='H'&&datum.g==='dis'"}], "mark": {"type": "line", "interpolate": "monotone"},
   "encoding": {
    "x": {"field": "t", "type": "quantitative", "scale": {"domain": [16, 34], "nice": false, "zero": false}, "axis": {"grid": true, "values": [16, 20, 24, 28, 32], "format": "d", "title": null, "gridOpacity": {"condition": {"test": "datum.value<=16", "value": 0}, "value": 1}}},
    "y": {"field": "v", "type": "quantitative", "scale": {"domain": [-0.3, 0.3], "nice": false}, "axis": {"grid": true, "values": [-0.3, -0.2, -0.1, 0, 0.1, 0.2, 0.3], "format": ".1f", "title": null, "gridOpacity": {"condition": {"test": "datum.value>0.29||datum.value<-0.29", "value": 0}, "value": 1}}},
    "color": {"field": "c", "type": "nominal", "scale": {"domain": ["g", "b", "r", "a"], "range": ["#008000", "#0000ff", "#8b0000", "#3a5ab4"]}, "legend": null},
    "strokeDash": {"field": "k", "type": "nominal", "scale": {"domain": ["s", "d"], "range": [[1, 0], [10, 6]]}, "legend": null},
    "strokeWidth": {"condition": {"test": "datum.k==='d'", "value": 3.5}, "value": 1.6}}}
 ]},
{"width": 250, "height": 159,
 "resolve": {"axis": {"y": "independent"}},
 "layer": [
  {"data": {"values": [{}]}, "mark": {"type": "rule", "color": "black", "strokeWidth": 1.3}, "encoding": {"y": {"datum": 0, "type": "quantitative", "axis": null, "scale": {"domain": [-0.3, 0.3], "nice": false}}}},
  {"data": {"name": "d"}, "transform": [{"filter": "datum.p==='B'&&datum.g==='dp'"}], "mark": {"type": "line", "interpolate": "monotone"},
   "encoding": {
    "x": {"field": "t", "type": "quantitative", "scale": {"domain": [16, 34], "nice": false, "zero": false}, "axis": {"grid": true, "values": [16, 20, 24, 28, 32], "format": "d", "title": "time [hAPF]", "titleX": 115, "titleY": 49, "titleBaseline": "alphabetic", "titleAlign": "center", "titleFontSize": 19.5, "gridOpacity": {"condition": {"test": "datum.value<=16", "value": 0}, "value": 1}}},
    "y": {"field": "v", "type": "quantitative", "scale": {"domain": [-0.3, 0.3], "nice": false}, "axis": {"grid": true, "values": [-0.3, -0.2, -0.1, 0, 0.1, 0.2, 0.3], "format": ".1f", "title": "dumpy", "titleX": -81, "titleBaseline": "alphabetic", "titleFontSize": 21, "gridOpacity": {"condition": {"test": "datum.value>0.29||datum.value<-0.29", "value": 0}, "value": 1}}},
    "color": {"field": "c", "type": "nominal", "scale": {"domain": ["g", "b", "r", "a"], "range": ["#008000", "#0000ff", "#8b0000", "#3a5ab4"]}, "legend": null},
    "strokeDash": {"field": "k", "type": "nominal", "scale": {"domain": ["s", "d"], "range": [[1, 0], [10, 6]]}, "legend": null},
    "strokeWidth": {"condition": {"test": "datum.k==='d'", "value": 3.5}, "value": 1.6}}}
 ]},
{"width": 260, "height": 159,
 "resolve": {"axis": {"y": "independent"}},
 "layer": [
  {"data": {"values": [{}]}, "mark": {"type": "rule", "color": "black", "strokeWidth": 1.3}, "encoding": {"y": {"datum": 0, "type": "quantitative", "axis": null, "scale": {"domain": [-0.4, 0.1], "nice": false}}}},
  {"data": {"name": "d"}, "transform": [{"filter": "datum.p==='A'&&datum.g==='dp'"}], "mark": {"type": "line", "interpolate": "monotone"},
   "encoding": {
    "x": {"field": "t", "type": "quantitative", "scale": {"domain": [16, 34], "nice": false, "zero": false}, "axis": {"grid": true, "values": [16, 20, 24, 28, 32], "format": "d", "title": "time [hAPF]", "titleX": 122, "titleY": 49, "titleBaseline": "alphabetic", "titleAlign": "center", "titleFontSize": 19.5, "gridOpacity": {"condition": {"test": "datum.value<=16", "value": 0}, "value": 1}}},
    "y": {"field": "v", "type": "quantitative", "scale": {"domain": [-0.4, 0.1], "nice": false}, "axis": {"grid": true, "values": [-0.4, -0.3, -0.2, -0.1, 0, 0.1], "format": ".1f", "title": null, "gridOpacity": {"condition": {"test": "datum.value>0.09||datum.value<-0.39", "value": 0}, "value": 1}}},
    "color": {"field": "c", "type": "nominal", "scale": {"domain": ["g", "b", "r", "a"], "range": ["#008000", "#0000ff", "#8b0000", "#3a5ab4"]}, "legend": null},
    "strokeDash": {"field": "k", "type": "nominal", "scale": {"domain": ["s", "d"], "range": [[1, 0], [10, 6]]}, "legend": null},
    "strokeWidth": {"condition": {"test": "datum.k==='d'", "value": 3.5}, "value": 1.6}}}
 ]},
{"width": 250, "height": 159,
 "resolve": {"axis": {"y": "independent"}},
 "layer": [
  {"data": {"values": [{}]}, "mark": {"type": "rule", "color": "black", "strokeWidth": 1.3}, "encoding": {"y": {"datum": 0, "type": "quantitative", "axis": null, "scale": {"domain": [-0.3, 0.3], "nice": false}}}},
  {"data": {"name": "d"}, "transform": [{"filter": "datum.p==='H'&&datum.g==='dp'"}], "mark": {"type": "line", "interpolate": "monotone"},
   "encoding": {
    "x": {"field": "t", "type": "quantitative", "scale": {"domain": [16, 34], "nice": false, "zero": false}, "axis": {"grid": true, "values": [16, 20, 24, 28, 32], "format": "d", "title": "time [hAPF]", "titleX": 111, "titleY": 49, "titleBaseline": "alphabetic", "titleAlign": "center", "titleFontSize": 19.5, "gridOpacity": {"condition": {"test": "datum.value<=16", "value": 0}, "value": 1}}},
    "y": {"field": "v", "type": "quantitative", "scale": {"domain": [-0.3, 0.3], "nice": false}, "axis": {"grid": true, "values": [-0.3, -0.2, -0.1, 0, 0.1, 0.2, 0.3], "format": ".1f", "title": null, "gridOpacity": {"condition": {"test": "datum.value>0.29||datum.value<-0.29", "value": 0}, "value": 1}}},
    "color": {"field": "c", "type": "nominal", "scale": {"domain": ["g", "b", "r", "a"], "range": ["#008000", "#0000ff", "#8b0000", "#3a5ab4"]}, "legend": null},
    "strokeDash": {"field": "k", "type": "nominal", "scale": {"domain": ["s", "d"], "range": [[1, 0], [10, 6]]}, "legend": null},
    "strokeWidth": {"condition": {"test": "datum.k==='d'", "value": 3.5}, "value": 1.6}}}
 ]}
]
}
